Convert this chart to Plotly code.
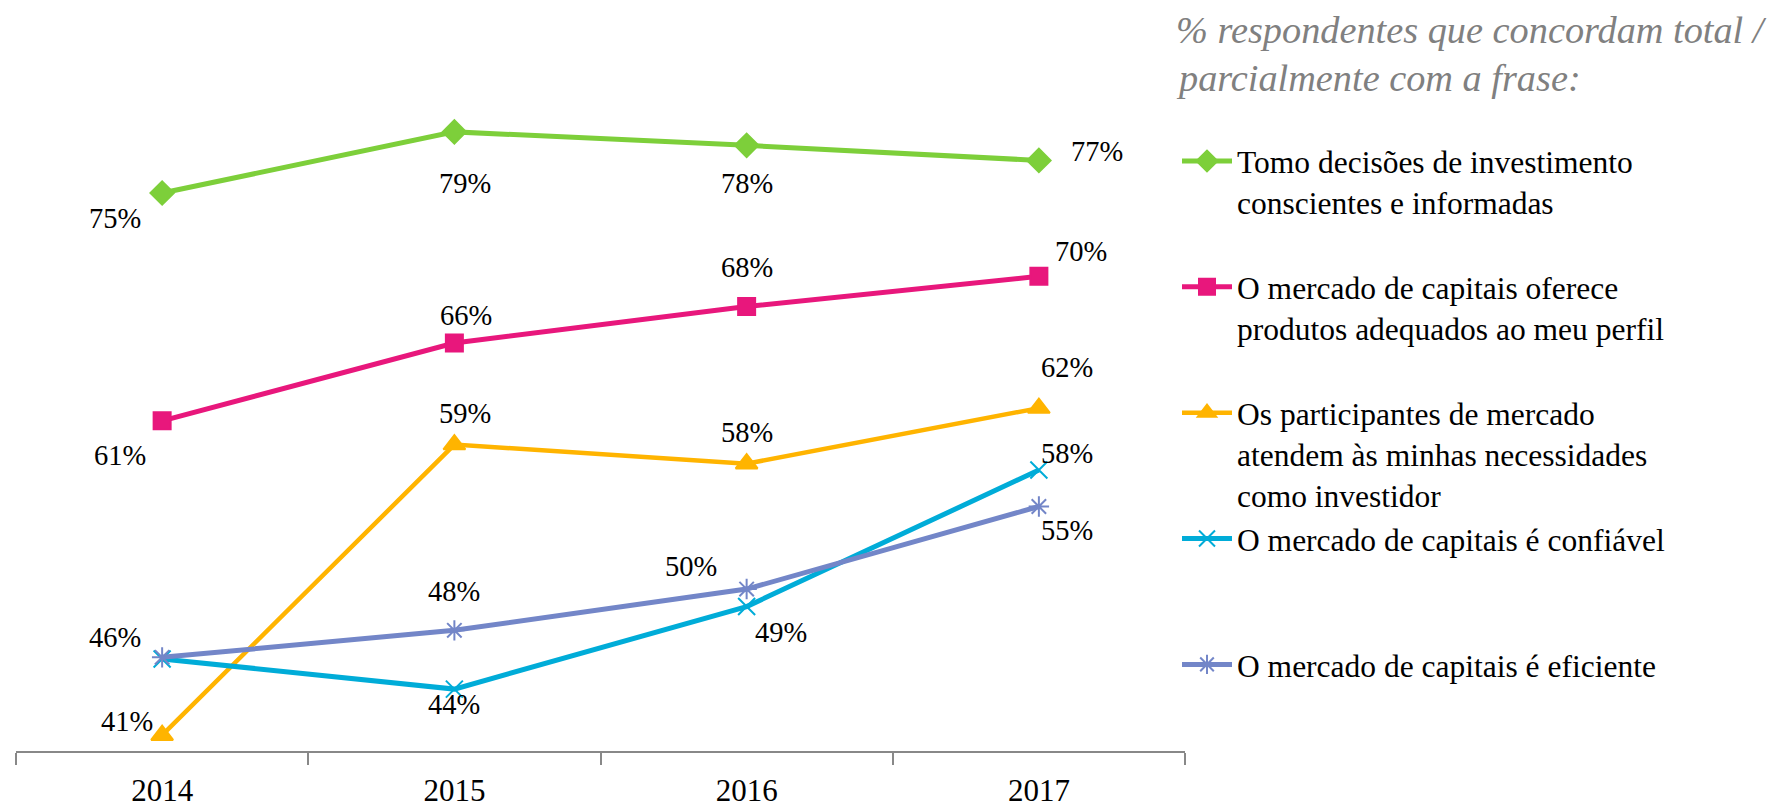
import plotly.graph_objects as go

years = ["2014", "2015", "2016", "2017"]

names = [
    "Tomo decisões de investimento<br>conscientes e informadas",
    "O mercado de capitais oferece<br>produtos adequados ao meu perfil",
    "Os participantes de mercado<br>atendem às minhas necessidades<br>como investidor",
    "O mercado de capitais é confiável",
    "O mercado de capitais é eficiente",
]

green_vals = [75.15, 79.0, 78.15, 77.2]
pink_vals = [60.8, 65.7, 68.0, 69.9]
orange_vals = [41.0, 59.3, 58.1, 61.6]
blue_vals = [45.8, 43.9, 49.1, 57.7]
purple_vals = [45.9, 47.6, 50.2, 55.4]

green_labels = ["75%", "79%", "78%", "77%"]
pink_labels = ["61%", "66%", "68%", "70%"]
orange_labels = ["41%", "59%", "58%", "62%"]
blue_labels = ["", "44%", "49%", "58%"]
purple_labels = ["46%", "48%", "50%", "55%"]

title_lines = ["% respondentes que concordam total /", "parcialmente com a frase:"]

series = [
    (green_vals, green_labels, "#7dcf3a", "diamond", 18, 5),
    (pink_vals, pink_labels, "#e8177c", "square", 17, 5),
    (orange_vals, orange_labels, "#ffb400", "triangle-up", 19, 4.5),
    (blue_vals, blue_labels, "#00acd8", "x-thin-open", 17, 5),
    (purple_vals, purple_labels, "#7386c8", "asterisk-open", 17, 5),
]

# label pixel offsets (dx, dy) per series/point
offsets = [
    [(-47, -26), (11, -52), (0, -38), (58, 9)],
    [(-42, -35), (12, 28), (0, 39), (42, 25)],
    [(-35, 14), (11, 31), (0, 31), (28, 41)],
    [(0, 0), (0, -15), (34, -26), (28, 17)],
    [(-47, 20), (0, 39), (-56, 23), (28, -24)],
]

FONT = "Liberation Serif"
W, H = 1774, 801
L, R, T, B = 8, 597, 108, 58
pw, ph = W - L - R, H - T - B

fig = go.Figure()
annotations = []
for i, (vals, labels, color, sym, msize, lw) in enumerate(series):
    nlines = names[i].count("<br>") + 1
    pad = "<br> " * (3 - nlines) if i < len(series) - 1 else ""
    fig.add_trace(go.Scatter(
        x=years, y=vals, mode="lines+markers",
        name=names[i] + pad,
        line=dict(color=color, width=lw),
        marker=dict(symbol=sym, size=msize, color=color,
                    line=dict(color=color, width=2)),
        hoverinfo="skip",
    ))
    for j, lab in enumerate(labels):
        if not lab:
            continue
        dx, dy = offsets[i][j]
        annotations.append(dict(
            x=j, y=vals[j], xref="x", yref="y", text=lab,
            showarrow=False, xshift=dx, yshift=dy,
            font=dict(family=FONT, size=28.5, color="#000000"),
        ))

title_y = [22, 70]
for k, line in enumerate(title_lines):
    annotations.append(dict(
        x=(1166 - L) / pw, y=(H - title_y[k] - B) / ph, xref="paper", yref="paper",
        text=f"<i>{line}</i>",
        showarrow=False, xanchor="left", yanchor="middle",
        font=dict(family=FONT, size=38.3, color="#808080"),
    ))

fig.update_layout(
    width=W, height=H,
    margin=dict(l=L, r=R, t=T, b=B, autoexpand=False),
    plot_bgcolor="white", paper_bgcolor="white",
    font=dict(family=FONT, size=28, color="#000000"),
    showlegend=True,
    legend=dict(
        x=(1169 - L) / pw, y=1 - (126 - T) / ph, xanchor="left", yanchor="top",
        font=dict(family=FONT, size=31.5, color="#000000"),
        valign="top", tracegroupgap=0, itemwidth=50, maxheight=1,
        bgcolor="rgba(0,0,0,0)",
    ),
    annotations=annotations,
    xaxis=dict(
        type="category", range=[-0.5, 3.5],
        showline=True, linecolor="#888888", linewidth=1.5,
        ticks="outside", tickson="boundaries", ticklen=12, tickcolor="#888888", tickwidth=1.5,
        ticklabelstandoff=11,
        showgrid=False, zeroline=False,
        tickfont=dict(family=FONT, size=31, color="#000000"),
    ),
    yaxis=dict(
        range=[40, 80], showticklabels=False, showline=False, ticks="",
        showgrid=False, zeroline=False,
    ),
)

fig.write_html("out.html")
